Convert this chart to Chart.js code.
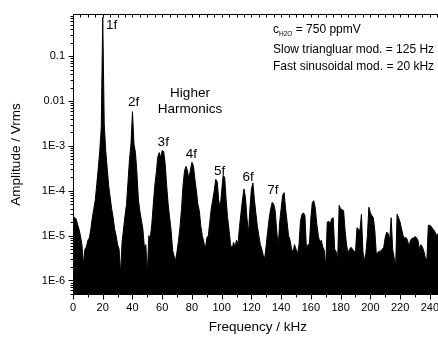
<!DOCTYPE html>
<html>
<head>
<meta charset="utf-8">
<script src="https://cdn.jsdelivr.net/npm/chart.js@4.4.1/dist/chart.umd.min.js"></script>
<style>
  html, body { margin: 0; padding: 0; background: #fff; overflow: hidden; }
  #wrap { width: 438px; height: 338px; overflow: hidden; }
</style>
</head>
<body>
<div id="wrap"><canvas id="spectrum" width="446" height="338"></canvas></div>
<script>
// FFT spectrum of the detector signal, 1 kHz bins
const freqKHz = [
  0, 1, 2, 3, 4, 5, 6, 7, 8, 9,
  10, 11, 12, 13, 14, 15, 16, 17, 18, 19,
  20, 21, 22, 23, 24, 25, 26, 27, 28, 29,
  30, 31, 32, 33, 34, 35, 36, 37, 38, 39,
  40, 41, 42, 43, 44, 45, 46, 47, 48, 49,
  50, 51, 52, 53, 54, 55, 56, 57, 58, 59,
  60, 61, 62, 63, 64, 65, 66, 67, 68, 69,
  70, 71, 72, 73, 74, 75, 76, 77, 78, 79,
  80, 81, 82, 83, 84, 85, 86, 87, 88, 89,
  90, 91, 92, 93, 94, 95, 96, 97, 98, 99,
  100, 101, 102, 103, 104, 105, 106, 107, 108, 109,
  110, 111, 112, 113, 114, 115, 116, 117, 118, 119,
  120, 121, 122, 123, 124, 125, 126, 127, 128, 129,
  130, 131, 132, 133, 134, 135, 136, 137, 138, 139,
  140, 141, 142, 143, 144, 145, 146, 147, 148, 149,
  150, 151, 152, 153, 154, 155, 156, 157, 158, 159,
  160, 161, 162, 163, 164, 165, 166, 167, 168, 169,
  170, 171, 172, 173, 174, 175, 176, 177, 178, 179,
  180, 181, 182, 183, 184, 185, 186, 187, 188, 189,
  190, 191, 192, 193, 194, 195, 196, 197, 198, 199,
  200, 201, 202, 203, 204, 205, 206, 207, 208, 209,
  210, 211, 212, 213, 214, 215, 216, 217, 218, 219,
  220, 221, 222, 223, 224, 225, 226, 227, 228, 229,
  230, 231, 232, 233, 234, 235, 236, 237, 238, 239,
  240, 241, 242, 243, 244, 245, 246, 247, 248, 249
];

// amplitude in Vrms
const amplitude = [
  2.8e-5, 2.5e-5, 2.4e-5, 1.8e-5, 1.4e-5, 1.0e-5, 6.3e-6, 2.3e-6, 5.0e-6, 5.6e-6,
  7.9e-6, 8.9e-6, 1.4e-5, 2.5e-5, 4.0e-5, 6.3e-5, 1.4e-4, 3.2e-4, 7.9e-4, 2.5e-3,
  0.74, 3.2e-3, 7.9e-4, 3.2e-4, 1.3e-4, 7.1e-5, 4.0e-5, 2.5e-5, 1.4e-5, 1.0e-5,
  6.3e-6, 5.0e-6, 1.4e-6, 7.1e-6, 1.4e-5, 2.8e-5, 5.0e-5, 1.6e-4, 5.0e-4, 1.1e-3,
  5.8e-3, 1.1e-3, 7.1e-4, 2.5e-4, 6.3e-5, 3.5e-5, 2.2e-5, 1.4e-5, 5.5e-6, 6.3e-6,
  1.4e-6, 1.0e-5, 8.9e-6, 1.8e-5, 5.0e-5, 1.3e-4, 2.5e-4, 5.6e-4, 7.1e-4, 5.5e-4,
  7.9e-4, 7.5e-4, 4.0e-4, 1.3e-4, 5.0e-5, 2.5e-5, 1.3e-5, 4.7e-6, 3.5e-6, 2.8e-6,
  4.5e-6, 7.9e-6, 1.6e-5, 4.0e-5, 1.3e-4, 2.8e-4, 3.5e-4, 2.8e-4, 1.8e-4, 3.0e-4,
  4.3e-4, 3.6e-4, 1.8e-4, 1.0e-4, 5.0e-5, 3.5e-5, 1.6e-5, 1.0e-5, 7.1e-6, 5.0e-6,
  8.9e-6, 1.0e-5, 2.0e-5, 4.0e-5, 6.3e-5, 1.0e-4, 1.8e-4, 1.6e-4, 6.3e-5, 4.0e-5,
  1.0e-4, 2.2e-4, 2.0e-4, 6.3e-5, 2.5e-5, 1.3e-5, 6.3e-6, 5.0e-6, 7.1e-6, 5.6e-6,
  7.9e-6, 6.5e-6, 1.6e-5, 3.2e-5, 6.3e-5, 1.1e-4, 7.1e-5, 2.5e-5, 1.1e-5, 4.0e-5,
  1.1e-4, 1.5e-4, 6.3e-5, 3.2e-5, 1.6e-5, 1.0e-5, 6.3e-6, 5.0e-6, 3.6e-6, 3.2e-6,
  6.3e-6, 1.3e-5, 2.5e-5, 4.0e-5, 5.5e-5, 5.0e-5, 3.6e-5, 1.3e-5, 5.5e-6, 2.0e-5,
  4.0e-5, 7.9e-5, 9.1e-5, 4.0e-5, 2.0e-5, 1.0e-5, 7.9e-6, 5.0e-6, 4.3e-6, 6.3e-6,
  5.0e-6, 3.9e-6, 6.3e-6, 2.1e-5, 3.0e-5, 3.2e-5, 2.8e-5, 5.0e-6, 6.3e-6, 6.5e-6,
  2.5e-5, 5.6e-5, 6.0e-5, 4.0e-5, 1.8e-5, 1.0e-5, 7.1e-6, 7.9e-6, 5.6e-6, 4.7e-6,
  2.0e-6, 2.0e-5, 2.1e-5, 1.8e-5, 2.4e-5, 2.5e-5, 5.0e-6, 4.4e-6, 2.8e-6, 4.7e-5,
  4.0e-5, 3.8e-5, 3.6e-5, 1.3e-5, 6.3e-6, 4.0e-6, 5.0e-6, 5.5e-6, 5.0e-6, 4.5e-6,
  4.4e-6, 1.5e-5, 1.4e-5, 1.3e-5, 3.0e-5, 4.4e-6, 2.8e-6, 4.0e-6, 1.0e-5, 4.3e-5,
  3.2e-5, 2.8e-5, 2.5e-5, 1.3e-5, 3.9e-6, 4.2e-6, 4.5e-6, 4.5e-6, 5.0e-6, 5.5e-6,
  9.1e-6, 1.2e-5, 1.1e-5, 7.9e-6, 2.5e-5, 5.0e-6, 3.2e-6, 2.0e-6, 3.0e-5, 2.5e-5,
  2.0e-5, 1.4e-5, 1.0e-5, 8.7e-6, 9.1e-6, 7.9e-6, 5.6e-6, 7.9e-6, 8.7e-6, 8.9e-6,
  9.5e-6, 9.1e-6, 7.9e-6, 5.0e-6, 6.3e-6, 5.6e-6, 4.5e-6, 3.2e-6, 2.8e-6, 1.7e-5,
  1.7e-5, 1.6e-5, 1.4e-5, 1.3e-5, 1.1e-5, 1.0e-5, 1.2e-5, 1.1e-5, 9.0e-6, 1.0e-5
];

const xTicks = [0, 20, 40, 60, 80, 100, 120, 140, 160, 180, 200, 220, 240];
const yTicks = [1e-6, 1e-5, 1e-4, 1e-3, 0.01, 0.1];
const yTickLabels = ['1E-6', '1E-5', '1E-4', '1E-3', '0.01', '0.1'];

// harmonic markers (label centre in data coordinates)
const harmLabels = ['1f', '2f', '3f', '4f', '5f', '6f', '7f'];
const harmX = [26, 40.7, 60.7, 79.7, 98.7, 117.8, 134.4];
const harmY = [0.5, 9.6e-3, 1.18e-3, 6.5e-4, 2.7e-4, 2.0e-4, 1.05e-4];

const FONT = '"Liberation Sans", Arial, Helvetica, sans-serif';
Chart.defaults.font.family = FONT;
Chart.defaults.color = '#000';

// frame, tick marks and text annotations
const decorations = {
  id: 'decorations',
  afterDatasetsDraw(chart) {
    const {ctx, chartArea: a, scales: {x, y}} = chart;
    const L = Math.round(a.left) + 0.5;
    const T = Math.round(a.top) - 0.5;
    const B = Math.round(a.bottom) + 0.5;
    ctx.save();
    ctx.strokeStyle = '#000';
    ctx.lineWidth = 1;
    ctx.beginPath();
    ctx.moveTo(L, T); ctx.lineTo(L, B);
    ctx.moveTo(L, B); ctx.lineTo(a.right, B);
    ctx.moveTo(L, T); ctx.lineTo(a.right, T);
    // bottom ticks, major every 20 kHz
    for (let f = 0; f <= x.max; f += 10) {
      const px = Math.round(x.getPixelForValue(f)) + 0.5;
      const len = f % 20 === 0 ? 5 : 3;
      ctx.moveTo(px, B); ctx.lineTo(px, B + len);
    }
    // top ticks point inward
    for (let f = 5; f <= x.max; f += 5) {
      const px = Math.round(x.getPixelForValue(f)) + 0.5;
      ctx.moveTo(px, T); ctx.lineTo(px, T + 3);
    }
    // log ticks on the left
    for (let n = -7; n <= 0; n++) {
      for (let k = 1; k <= 9; k++) {
        const v = k * Math.pow(10, n);
        if (v < y.min || v > y.max) continue;
        const py = Math.round(y.getPixelForValue(v)) + 0.5;
        ctx.moveTo(L, py); ctx.lineTo(L - (k === 1 ? 5 : 3), py);
      }
    }
    ctx.stroke();

    ctx.fillStyle = '#000';
    ctx.textAlign = 'center';
    ctx.textBaseline = 'middle';
    ctx.font = '13.5px ' + FONT;
    harmLabels.forEach((t, i) => {
      ctx.fillText(t, x.getPixelForValue(harmX[i]), y.getPixelForValue(harmY[i]));
    });
    ctx.fillText('Higher', x.getPixelForValue(78.7), y.getPixelForValue(0.0153));
    ctx.fillText('Harmonics', x.getPixelForValue(78.7), y.getPixelForValue(0.0064));

    // measurement conditions
    const tx = a.left + 200;
    ctx.textAlign = 'left';
    ctx.font = '12px ' + FONT;
    ctx.fillText('c', tx, a.top + 15);
    let w = ctx.measureText('c').width;
    ctx.font = '6.5px ' + FONT;
    ctx.fillText('H2O', tx + w, a.top + 19);
    w += ctx.measureText('H2O').width;
    ctx.font = '12px ' + FONT;
    ctx.fillText(' = 750 ppmV', tx + w, a.top + 15);
    ctx.fillText('Slow triangluar mod. = 125 Hz', tx, a.top + 35);
    ctx.fillText('Fast sinusoidal mod. = 20 kHz', tx, a.top + 52);
    ctx.restore();
  }
};

new Chart(document.getElementById('spectrum'), {
  type: 'line',
  data: {
    datasets: [{
      data: freqKHz.map((f, i) => ({x: f, y: amplitude[i]})),
      borderColor: '#000',
      backgroundColor: '#000',
      borderWidth: 1,
      pointRadius: 0,
      tension: 0,
      fill: 'start'
    }]
  },
  options: {
    responsive: false,
    animation: false,
    layout: {padding: {top: 15, left: 0, right: 0, bottom: 0}},
    plugins: {legend: {display: false}, tooltip: {enabled: false}},
    scales: {
      x: {
        type: 'linear',
        min: 0,
        max: 248.7,
        afterBuildTicks: s => { s.ticks = xTicks.map(v => ({value: v})); },
        afterFit: s => { s.height = 44; },
        grid: {display: false, drawTicks: false},
        border: {display: false},
        ticks: {font: {size: 11}, padding: 7, maxRotation: 0, autoSkip: false},
        title: {display: true, text: 'Frequency / kHz', font: {size: 13.5}, padding: {top: 0, bottom: 3}}
      },
      y: {
        type: 'logarithmic',
        min: 5e-7,
        max: 0.83,
        afterBuildTicks: s => { s.ticks = yTicks.map(v => ({value: v})); },
        afterFit: s => { s.width = 73; },
        grid: {display: false, drawTicks: false},
        border: {display: false},
        ticks: {font: {size: 11}, padding: 8, callback: (v, i) => yTickLabels[i]},
        title: {display: true, text: 'Amplitude / Vrms', font: {size: 13.5}, padding: {top: 8, bottom: 0}}
      }
    }
  },
  plugins: [decorations]
});
</script>
</body>
</html>
